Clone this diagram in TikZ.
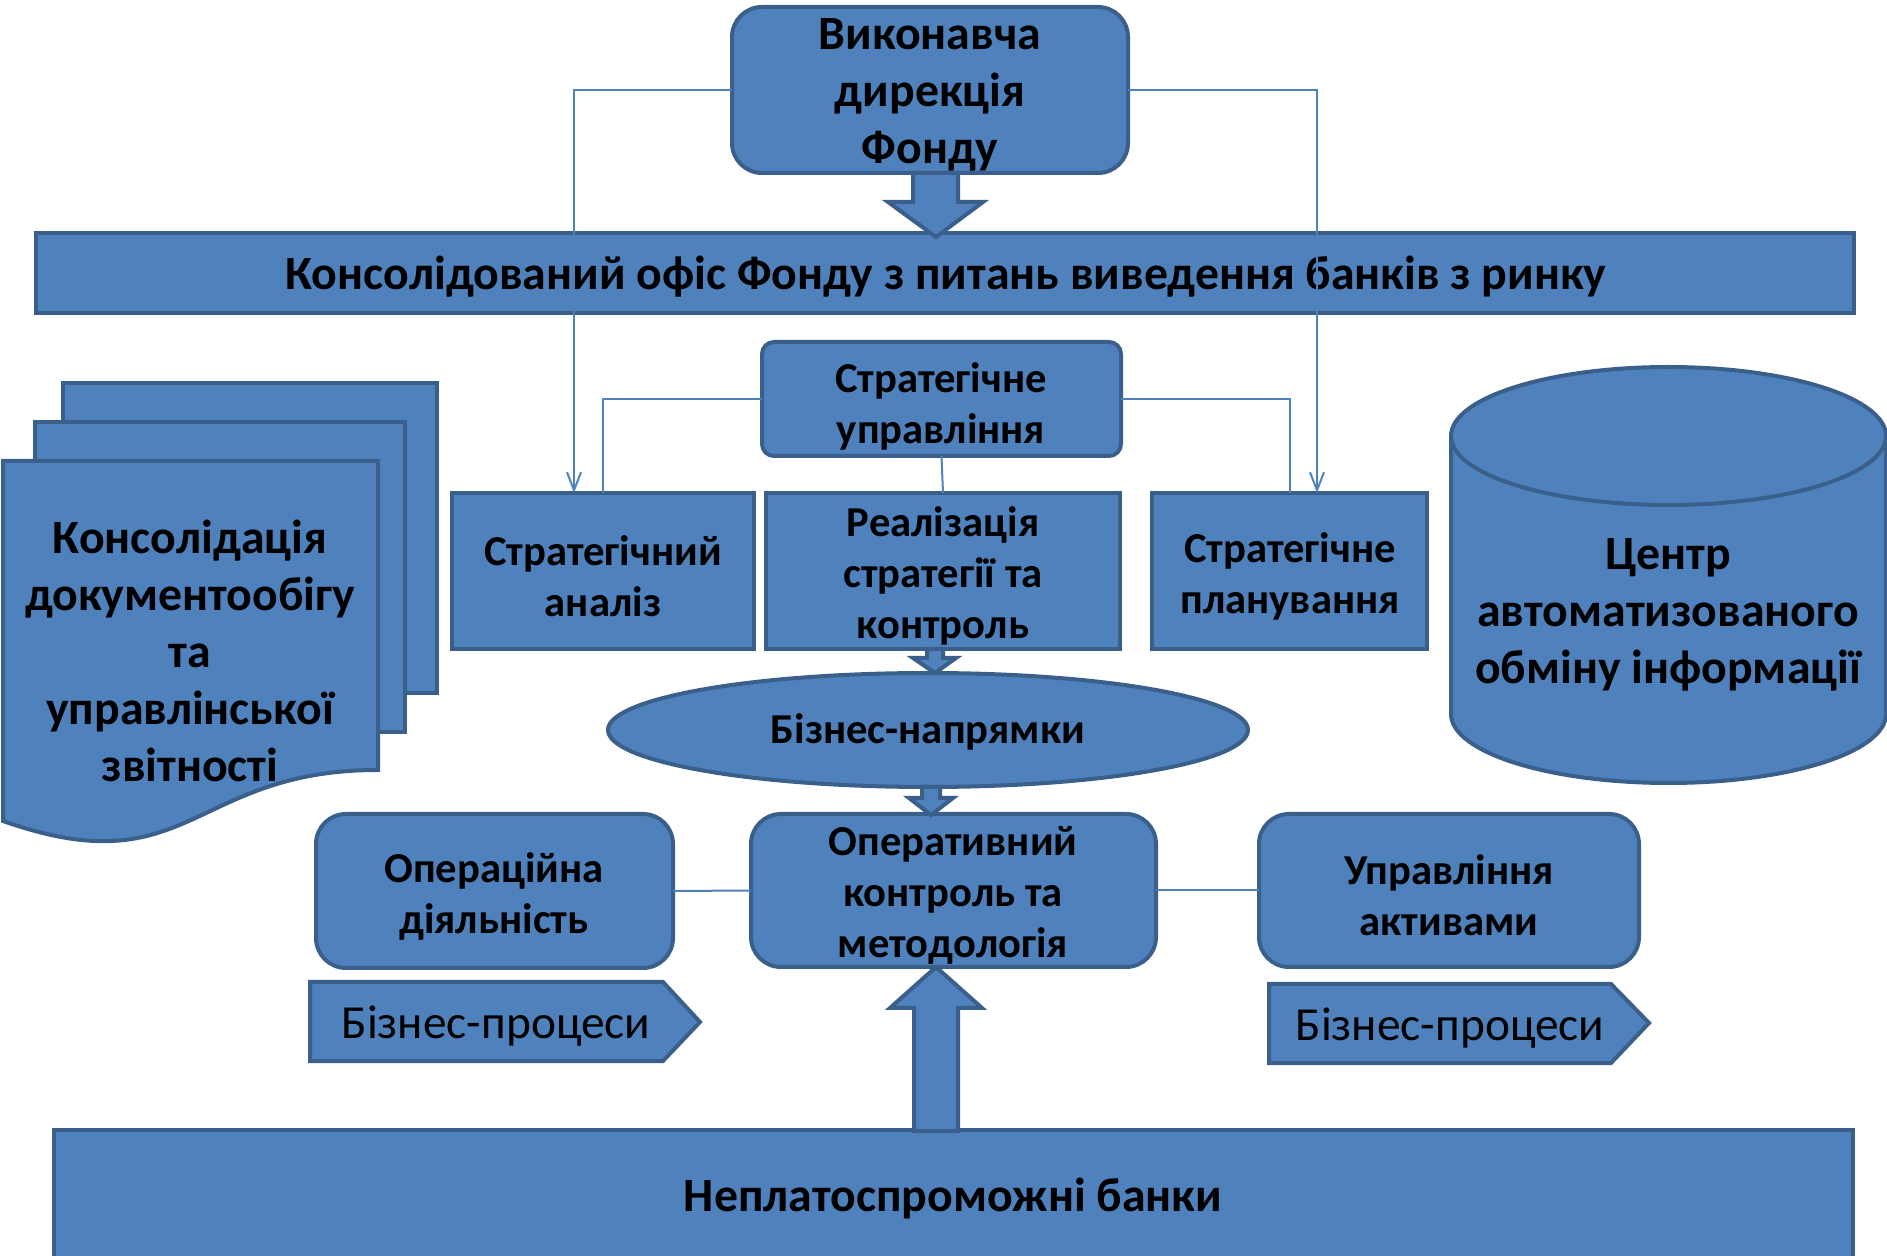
\documentclass[tikz,border=0pt]{standalone}
\usepackage{fontspec}
\setmainfont{Carlito}
\usetikzlibrary{shapes.geometric,arrows.meta}
\definecolor{fillb}{HTML}{4F81BD}
\definecolor{edgeb}{HTML}{3A5F8B}
\begin{document}
\begin{tikzpicture}[x=0.5pt,y=-0.5pt,
 shp/.style={draw=edgeb,fill=fillb,line width=2pt,inner sep=0pt,outer sep=0pt},
 box/.style={shp,rectangle},
 rbox/.style={shp,rectangle,rounded corners=15pt},
 bigt/.style={font=\fontsize{23.9}{28.5}\selectfont\bfseries,align=center,text=black,inner sep=0pt},
 smallt/.style={font=\fontsize{21.3}{25.5}\selectfont\bfseries,align=center,text=black,inner sep=0pt},
 regt/.style={font=\fontsize{23.7}{28.5}\selectfont,align=center,text=black,inner sep=0pt},
 thinline/.style={draw=fillb,line width=1pt},
 barb/.style={-{Straight Barb[length=9pt,width=7pt,line width=1pt]}}
]
\useasboundingbox (0,0) rectangle (1887,1256);

% multi-document shape
\filldraw[shp] (63,383) rectangle (437,693);
\filldraw[shp] (35,422) rectangle (405,732);
\filldraw[shp] (3,461) -- (378,461) -- (378,770) .. controls (190.5,770) and (190.5,887) .. (3,821) -- cycle;
\node[bigt] (docT) at (190,651) {Консолідація\\документообігу\\та\\управлінської\\звітності};

% cylinder
\filldraw[shp] (1451,436) -- (1451,714) arc[start angle=180,end angle=0,x radius=217.5,y radius=69]
  -- (1886,436) arc[start angle=0,end angle=-180,x radius=217.5,y radius=69] -- cycle;
\draw[draw=edgeb,line width=2pt] (1451,436) arc[start angle=180,end angle=0,x radius=217.5,y radius=69];
\node[bigt] (cylT) at (1668,615) {Центр\\автоматизованого\\обміну інформації};

% top box and bar
\node[rbox,minimum width=198pt,minimum height=83pt] (exec) at (930,90) {};
\node[bigt] (execT) at (930,95) {Виконавча\\дирекція\\Фонду};
\node[box,minimum width=909pt,minimum height=40pt] (office) at (945,273) {};
\node[bigt] (officeT) at (946,277) {Консолідований офіс Фонду з питань виведення банків з ринку};

% strategic
\node[shp,rounded corners=6pt,minimum width=179.5pt,minimum height=57pt] (su) at (941.5,399) {};
\node[smallt] (suT) at (941,406) {Стратегічне\\управління};
\node[box,minimum width=151pt,minimum height=78pt] (sa) at (603,571) {};
\node[smallt] (saT) at (603,576) {Стратегічний\\аналіз};
\node[box,minimum width=177pt,minimum height=78pt] (rs) at (943,571) {};
\node[smallt] (rsT) at (943,576) {Реалізація\\стратегії та\\контроль};
\node[box,minimum width=137.5pt,minimum height=78pt] (sp) at (1289.5,571) {};
\node[smallt] (spT) at (1290,576) {Стратегічне\\планування};

% ellipse
\node[shp,ellipse,minimum width=320pt,minimum height=57pt] (bn) at (928,730) {};
\node[smallt] (bnT) at (928,732) {Бізнес-напрямки};

% operative row
\node[rbox,minimum width=202.5pt,minimum height=76.5pt] (ok) at (953.5,890.5) {};
\node[smallt] (okT) at (953,895) {Оперативний\\контроль та\\методологія};
\node[rbox,minimum width=178.5pt,minimum height=77pt] (od) at (494.5,891) {};
\node[smallt] (odT) at (494,896) {Операційна\\діяльність};
\node[rbox,minimum width=190pt,minimum height=76.5pt] (ua) at (1449,890.5) {};
\node[smallt] (uaT) at (1449,895) {Управління\\активами};

% business processes
\filldraw[shp] (310,982) -- (663,982) -- (700,1022) -- (663,1061) -- (310,1061) -- cycle;
\node[regt] (bp1) at (496,1026) {Бізнес-процеси};
\filldraw[shp] (1269,984) -- (1611,984) -- (1649,1023) -- (1611,1063) -- (1269,1063) -- cycle;
\node[regt] (bp2) at (1450,1028) {Бізнес-процеси};

% bottom bar
\node[box,minimum width=899.5pt,minimum height=65pt] (banks) at (953.5,1195) {};
\node[bigt] (banksT) at (953,1198) {Неплатоспроможні банки};

% block arrows
\filldraw[shp] (913,173) -- (958,173) -- (958,202) -- (983,202) -- (936,237) -- (888,202) -- (913,202) -- cycle;
\filldraw[shp] (927,649) -- (943,649) -- (943,658) -- (956,658) -- (935,673) -- (913,658) -- (927,658) -- cycle;
\filldraw[shp] (922,787) -- (940,787) -- (940,798) -- (953,798) -- (931,815) -- (909,798) -- (922,798) -- cycle;
\filldraw[shp] (914,1131) -- (914,1008) -- (890,1008) -- (936,967) -- (982,1008) -- (958,1008) -- (958,1131) -- cycle;

% thin connectors
\draw[thinline,barb] (exec.west) -| ([xshift=-14.5pt]sa.north);
\draw[thinline,barb] (exec.east) -| ([xshift=13.75pt]sp.north);
\draw[thinline] (su.west) -| (sa.north);
\draw[thinline] (su.east) -| (sp.north);
\draw[thinline] (su.south) -- (rs.north);
\draw[thinline] (od.east) -- (ok.west);
\draw[thinline] (ok.east) -- (ua.west);
\end{tikzpicture}
\end{document}
